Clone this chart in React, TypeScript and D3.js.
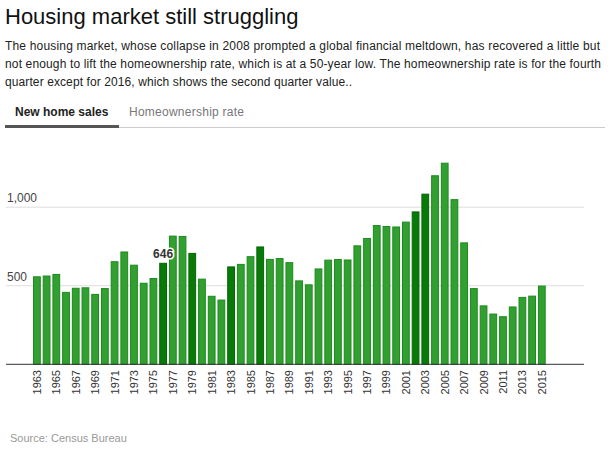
import React from "react";
import * as d3 from "d3";

const years: number[] = [
  1963, 1964, 1965, 1966, 1967, 1968, 1969, 1970, 1971, 1972, 1973, 1974, 1975, 1976,
  1977, 1978, 1979, 1980, 1981, 1982, 1983, 1984, 1985, 1986, 1987, 1988, 1989, 1990,
  1991, 1992, 1993, 1994, 1995, 1996, 1997, 1998, 1999, 2000, 2001, 2002, 2003, 2004,
  2005, 2006, 2007, 2008, 2009, 2010, 2011, 2012, 2013, 2014, 2015,
];
const sales: number[] = [
  560, 565, 575, 461, 487, 490, 448, 485, 656, 718, 634, 519, 549, 646,
  819, 817, 709, 545, 436, 412, 623, 639, 688, 750, 671, 676, 650, 534,
  509, 610, 666, 670, 667, 757, 804, 886, 880, 877, 908, 973, 1086, 1203,
  1283, 1051, 776, 485, 375, 323, 306, 368, 429, 437, 501,
];
const darkYears: number[] = [1976, 1979, 1983, 1986, 2002, 2003];
const labeledYear = 1976;
const yTicks: number[] = [500, 1000];
const xTickYears: number[] = years.filter((y) => (y - 1963) % 2 === 0);

const title = "Housing market still struggling";
const descLines: string[] = [
  "The housing market, whose collapse in 2008 prompted a global financial meltdown, has recovered a little but",
  "not enough to lift the homeownership rate, which is at a 50-year low. The homeownership rate is for the fourth",
  "quarter except for 2016, which shows the second quarter value..",
];
const descWidths: number[] = [595, 596, 347];
const tabs: string[] = ["New home sales", "Homeownership rate"];
const source = "Source: Census Bureau";

const W = 612;
const H = 451;
const FONT = "Arial, 'Liberation Sans', sans-serif";

export default function App() {
  const x = d3
    .scaleBand<number>()
    .domain(years)
    .range([33, 545.7])
    .paddingInner(0.2)
    .paddingOuter(0);
  const y = d3.scaleLinear().domain([0, 1500]).range([364.3, 128.6]);
  const fmt = d3.format(",");
  const gridX0 = 6;
  const gridX1 = 584;

  return (
    <svg
      width={W}
      height={H}
      style={{ position: "absolute", left: 0, top: 0, background: "#fff" }}
      fontFamily={FONT}
    >
      <rect x={0} y={0} width={W} height={H} fill="#fff" />
      <text x={5} y={24} fontSize={22} fill="#111">
        {title}
      </text>
      {descLines.map((l, i) => (
        <text
          key={i}
          x={5}
          y={50 + i * 18}
          fontSize={12}
          fill="#222"
          textLength={descWidths[i]}
          lengthAdjust="spacing"
        >
          {l}
        </text>
      ))}
      {/* tabs */}
      <text x={15} y={116} fontSize={12} fontWeight="bold" fill="#222">
        {tabs[0]}
      </text>
      <text x={129} y={116} fontSize={12} fill="#777" textLength={115} lengthAdjust="spacing">
        {tabs[1]}
      </text>
      <line x1={119} x2={605} y1={127.5} y2={127.5} stroke="#ccc" strokeWidth={1} />
      <rect x={5} y={125} width={114} height={3} fill="#555" />

      {/* gridlines */}
      {yTicks.map((t) => (
        <g key={t}>
          <line x1={gridX0} x2={gridX1} y1={y(t)} y2={y(t)} stroke="#ddd" strokeWidth={1} />
          <text x={7} y={y(t) - 5} fontSize={12} fill="#444">
            {fmt(t)}
          </text>
        </g>
      ))}

      {/* bars */}
      {years.map((yr, i) => {
        const dark = darkYears.includes(yr);
        const v = sales[i];
        return (
          <rect
            key={yr}
            x={(x(yr) as number) + 0.5}
            y={y(v) + 0.5}
            width={x.bandwidth() - 1}
            height={y(0) - y(v) - 0.5}
            fill={dark ? "#077a07" : "#31a031"}
            stroke={dark ? "#066606" : "#1d8a1d"}
            strokeWidth={1}
          />
        );
      })}

      {/* baseline */}
      <line x1={gridX0} x2={gridX1} y1={y(0)} y2={y(0)} stroke="#333" strokeWidth={1} />

      {/* value label */}
      {(() => {
        const i = years.indexOf(labeledYear);
        const cx = (x(labeledYear) as number) + x.bandwidth() / 2;
        return (
          <text
            x={cx}
            y={y(sales[i]) - 5}
            fontSize={12}
            fontWeight="bold"
            fill="#333"
            textAnchor="middle"
            stroke="#fff"
            strokeWidth={3}
            paintOrder="stroke"
          >
            {sales[i]}
          </text>
        );
      })()}

      {/* x tick labels */}
      {xTickYears.map((yr) => {
        const cx = (x(yr) as number) + x.bandwidth() / 2;
        const ty = 370;
        return (
          <text
            key={yr}
            transform={`translate(${cx + 4},${ty}) rotate(-90)`}
            fontSize={11}
            fill="#333"
            textAnchor="end"
          >
            {yr}
          </text>
        );
      })}

      <text x={10} y={442} fontSize={11} fill="#999">
        {source}
      </text>
    </svg>
  );
}
